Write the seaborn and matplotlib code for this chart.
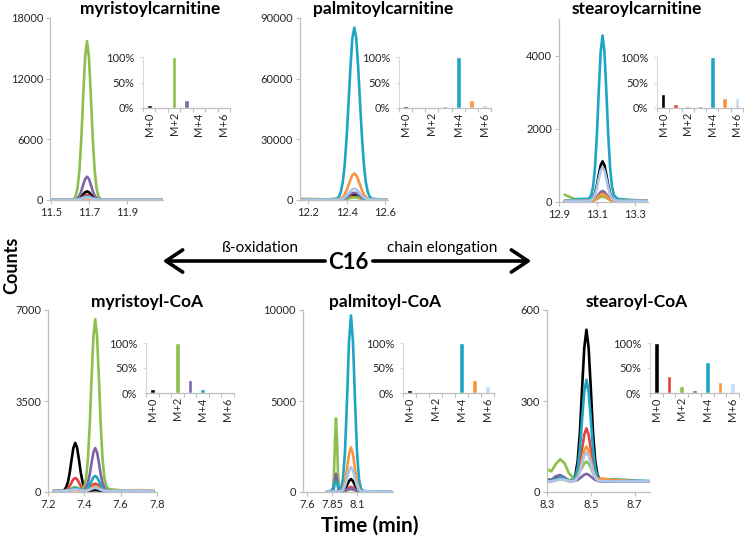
import matplotlib
matplotlib.use('Agg')
import matplotlib.pyplot as plt
from matplotlib.patches import FancyArrowPatch
import seaborn as sns
import pandas as pd

# isotopologues and their colours (M+0 ... M+6)
iso_labels = ['M+0', 'M+1', 'M+2', 'M+3', 'M+4', 'M+5', 'M+6']
iso_colors = ['#000000', '#e0443e', '#8cbf4c', '#8064a8', '#1ca6c4', '#f7963f', '#a9c6ec']
bar_colors = ['#000000', '#e0443e', '#8cbf4c', '#8064a8', '#1ca6c4', '#f7963f', '#c4dcf3']

# ---- myristoylcarnitine ----
myrcar_t = [11.50, 11.60, 11.62, 11.63, 11.64, 11.65, 11.66, 11.67, 11.68, 11.69,
            11.70, 11.71, 11.72, 11.73, 11.74, 11.75, 11.76, 11.80, 12.09]
myrcar_y = [
    [0, 0, 5, 20, 65, 162, 332, 561, 765, 850, 765, 561, 332, 162, 65, 20, 5, 0, 0],
    [0, 0, 3, 12, 38, 95, 195, 330, 450, 500, 450, 330, 195, 95, 38, 12, 3, 0, 0],
    [0, 0, 94, 377, 1193, 2983, 6123, 10362, 14130, 15700, 14130, 10362, 6123, 2983, 1193, 377, 94, 0, 0],
    [0, 0, 14, 55, 175, 437, 897, 1518, 2070, 2300, 2070, 1518, 897, 437, 175, 55, 14, 0, 0],
    [40, 40, 42, 47, 63, 97, 157, 238, 310, 340, 310, 238, 157, 97, 63, 47, 42, 40, 40],
    [20, 20, 21, 24, 31, 48, 79, 119, 155, 170, 155, 119, 79, 48, 31, 24, 21, 20, 20],
    [20, 20, 22, 26, 39, 67, 118, 185, 245, 270, 245, 185, 118, 67, 39, 26, 22, 20, 20],
]
myrcar_bars = [0.05, 0.02, 1.00, 0.15, 0.01, 0.01, 0.01]

# ---- palmitoylcarnitine ----
palcar_t = [12.16, 12.30, 12.35, 12.36, 12.37, 12.38, 12.39, 12.40, 12.41, 12.42, 12.43, 12.44,
            12.45, 12.46, 12.47, 12.48, 12.49, 12.50, 12.51, 12.52, 12.53, 12.58, 12.61]
palcar_y = [
    [100, 100, 115, 143, 210, 350, 600, 1000, 1500, 2025, 2450, 2600, 2450, 2025, 1500, 1000, 600, 350, 210, 143, 115, 100, 100],
    [50, 50, 59, 76, 116, 200, 350, 590, 890, 1205, 1460, 1550, 1460, 1205, 890, 590, 350, 200, 116, 76, 59, 50, 50],
    [600, 300, 306, 317, 344, 400, 500, 660, 860, 1070, 1240, 1300, 1240, 1070, 860, 660, 500, 400, 344, 317, 306, 300, 300],
    [50, 50, 71, 110, 204, 400, 750, 1310, 2010, 2745, 3340, 3550, 3340, 2745, 2010, 1310, 750, 400, 204, 110, 71, 50, 50],
    [200, 200, 710, 1645, 3940, 8700, 17200, 30800, 47800, 65650, 80100, 85200, 80100, 65650, 47800, 30800, 17200, 8700, 3940, 1645, 710, 200, 200],
    [100, 100, 178, 321, 672, 1400, 2700, 4780, 7380, 10110, 12320, 13100, 12320, 10110, 7380, 4780, 2700, 1400, 672, 321, 178, 100, 100],
    [100, 100, 133, 194, 342, 650, 1200, 2080, 3180, 4335, 5270, 5600, 5270, 4335, 3180, 2080, 1200, 650, 342, 194, 133, 100, 100],
]
palcar_bars = [0.03, 0.01, 0.01, 0.03, 1.00, 0.15, 0.06]

# ---- stearoylcarnitine ----
stecar_t = [12.93, 13.00, 13.05, 13.06, 13.07, 13.08, 13.09, 13.10, 13.11, 13.12,
            13.13, 13.14, 13.15, 13.16, 13.17, 13.18, 13.19, 13.21, 13.27, 13.37]
stecar_y = [
    [30, 30, 31, 36, 56, 112, 235, 451, 743, 1002, 1110, 1002, 743, 451, 235, 112, 56, 31, 30, 30],
    [20, 20, 20, 21, 26, 38, 66, 114, 178, 236, 260, 236, 178, 114, 66, 38, 26, 20, 20, 20],
    [200, 40, 30, 31, 33, 39, 53, 77, 109, 138, 150, 138, 109, 77, 53, 39, 33, 30, 30, 30],
    [30, 30, 30, 32, 36, 51, 81, 135, 208, 273, 300, 273, 208, 135, 81, 51, 36, 30, 30, 30],
    [30, 80, 84, 107, 187, 420, 930, 1823, 3030, 4103, 4550, 4103, 3030, 1823, 930, 420, 187, 84, 60, 30],
    [30, 30, 30, 31, 35, 44, 66, 104, 155, 201, 220, 201, 155, 104, 66, 44, 35, 30, 30, 30],
    [30, 30, 31, 36, 52, 100, 205, 389, 637, 858, 950, 858, 637, 389, 205, 100, 52, 31, 30, 30],
]
stecar_bars = [0.27, 0.07, 0.04, 0.04, 1.00, 0.20, 0.20]

# ---- myristoyl-CoA ----
myrcoa_t = [7.23, 7.26, 7.28, 7.29, 7.30, 7.31, 7.32, 7.33, 7.34, 7.35, 7.36, 7.37, 7.38, 7.39, 7.40, 7.41,
            7.42, 7.43, 7.44, 7.45, 7.46, 7.47, 7.48, 7.49, 7.50, 7.51, 7.52, 7.53, 7.55, 7.60, 7.70, 7.78]
myrcoa_y = [
    [40, 40, 51, 84, 181, 392, 762, 1261, 1705, 1890, 1705, 1261, 762, 392, 182, 87,
     57, 52, 60, 67, 70, 67, 60, 52, 46, 42, 41, 40, 40, 40, 40, 40],
    [40, 40, 43, 52, 78, 135, 235, 370, 490, 540, 490, 370, 235, 137, 85, 73,
     96, 149, 225, 292, 320, 292, 225, 149, 93, 61, 47, 42, 40, 40, 40, 40],
    [40, 40, 41, 44, 51, 69, 99, 139, 175, 190, 175, 139, 105, 108, 210, 545,
     1295, 2614, 4396, 5980, 6640, 5980, 4396, 2614, 1294, 560, 240, 130, 100, 70, 50, 40],
    [40, 40, 40, 42, 46, 55, 71, 93, 112, 120, 112, 93, 73, 65, 86, 167,
     354, 684, 1129, 1525, 1690, 1525, 1129, 684, 354, 165, 80, 50, 40, 40, 40, 40],
    [40, 40, 41, 42, 48, 59, 79, 106, 130, 140, 130, 106, 80, 63, 62, 86,
     151, 266, 423, 562, 620, 562, 423, 266, 150, 84, 54, 43, 40, 40, 40, 40],
    [40, 40, 40, 41, 42, 46, 52, 60, 67, 70, 67, 60, 52, 47, 46, 54,
     74, 110, 159, 202, 220, 202, 159, 110, 74, 54, 44, 41, 45, 60, 70, 60],
    [40, 40, 40, 41, 45, 51, 63, 80, 94, 100, 94, 80, 63, 52, 47, 50,
     63, 87, 119, 148, 160, 148, 119, 87, 63, 49, 43, 41, 45, 50, 50, 50],
]
myrcoa_bars = [0.09, 0.03, 1.00, 0.27, 0.08, 0.01, 0.00]

# ---- palmitoyl-CoA ----
palcoa_t = [7.80, 7.84, 7.86, 7.87, 7.88, 7.89, 7.90, 7.91, 7.92, 7.94, 7.96, 7.98,
            8.00, 8.02, 8.04, 8.06, 8.08, 8.10, 8.12, 8.14, 8.17, 8.25, 8.46]
palcoa_y = [
    [0, 0, 10, 20, 30, 40, 30, 20, 10, 15, 55, 165, 370, 600, 710, 600, 370, 165, 55, 15, 5, 0, 0],
    [0, 0, 5, 10, 20, 25, 20, 10, 5, 5, 20, 65, 145, 240, 280, 240, 145, 65, 20, 5, 0, 0, 0],
    [0, 20, 160, 1010, 2840, 4050, 2840, 1010, 200, 80, 70, 80, 100, 120, 130, 120, 100, 70, 40, 20, 10, 0, 0],
    [0, 10, 40, 250, 700, 1000, 700, 250, 60, 30, 40, 70, 110, 170, 200, 170, 110, 50, 20, 5, 0, 0, 0],
    [30, 60, 200, 380, 520, 550, 520, 380, 220, 170, 710, 2230, 5040, 8250, 9700, 8250, 5040, 2230, 710, 165, 50, 30, 30],
    [0, 0, 0, 0, 0, 0, 0, 5, 10, 40, 180, 560, 1270, 2080, 2450, 2080, 1270, 560, 180, 40, 10, 0, 0],
    [20, 20, 20, 25, 30, 30, 30, 30, 30, 45, 120, 330, 720, 1170, 1370, 1170, 720, 330, 120, 50, 35, 30, 30],
]
palcoa_bars = [0.06, 0.01, 0.01, 0.03, 1.00, 0.27, 0.14]

# ---- stearoyl-CoA ----
stecoa_t = [8.30, 8.32, 8.34, 8.36, 8.38, 8.40, 8.42, 8.43, 8.44, 8.45, 8.46, 8.47,
            8.48, 8.49, 8.50, 8.51, 8.52, 8.53, 8.54, 8.56, 8.60, 8.70, 8.77]
stecoa_y = [
    [40, 40, 45, 50, 45, 38, 41, 57, 103, 195, 340, 475, 535, 475, 340, 195, 103, 57, 41, 37, 36, 35, 35],
    [35, 36, 40, 45, 42, 36, 37, 43, 59, 91, 142, 189, 210, 189, 142, 91, 59, 43, 37, 36, 35, 35, 35],
    [75, 68, 92, 108, 95, 62, 46, 50, 58, 68, 80, 94, 100, 94, 80, 62, 47, 40, 37, 36, 35, 35, 35],
    [35, 40, 52, 56, 48, 38, 36, 38, 40, 45, 51, 57, 60, 57, 51, 45, 40, 37, 35, 35, 35, 35, 35],
    [35, 38, 42, 48, 44, 38, 39, 50, 80, 142, 239, 330, 370, 330, 239, 142, 80, 50, 40, 40, 42, 38, 36],
    [35, 35, 38, 42, 40, 36, 36, 40, 51, 72, 105, 136, 150, 136, 105, 72, 52, 45, 44, 44, 40, 36, 35],
    [35, 35, 38, 42, 40, 36, 36, 39, 48, 65, 93, 119, 130, 119, 93, 65, 48, 39, 36, 36, 35, 35, 35],
]
stecoa_bars = [1.00, 0.35, 0.15, 0.06, 0.63, 0.23, 0.20]

titles = ['myristoylcarnitine', 'palmitoylcarnitine', 'stearoylcarnitine',
          'myristoyl-CoA', 'palmitoyl-CoA', 'stearoyl-CoA']
times = [myrcar_t, palcar_t, stecar_t, myrcoa_t, palcoa_t, stecoa_t]
traces = [myrcar_y, palcar_y, stecar_y, myrcoa_y, palcoa_y, stecoa_y]
bars = [myrcar_bars, palcar_bars, stecar_bars, myrcoa_bars, palcoa_bars, stecoa_bars]
x_ticks = [[11.5, 11.7, 11.9], [12.2, 12.4, 12.6], [12.9, 13.1, 13.3],
           [7.2, 7.4, 7.6, 7.8], [7.6, 7.85, 8.1], [8.3, 8.5, 8.7]]
x_ticklabels = [['11.5', '11.7', '11.9'], ['12.2', '12.4', '12.6'], ['12.9', '13.1', '13.3'],
                ['7.2', '7.4', '7.6', '7.8'], ['7.6', '7.85', '8.1'], ['8.3', '8.5', '8.7']]
y_ticks = [[0, 6000, 12000, 18000], [0, 30000, 60000, 90000], [0, 2000, 4000],
           [0, 3500, 7000], [0, 5000, 10000], [0, 300, 600]]

# ---- layout (pixels in a 745 x 544 figure) ----
W, H = 745, 544
x_lims = [(11.495, 12.09), (12.158, 12.615), (12.9, 13.37), (7.2, 7.8), (7.56, 8.46), (8.3, 8.77)]
y_lims = [(0, 18000), (0, 90000), (0, 5000), (0, 7000), (0, 10000), (0, 600)]
main_boxes = [(50, 18, 163, 200), (300, 18, 388, 200), (559, 19, 648, 202),
              (48, 310, 157, 492), (303, 310, 393, 492), (547, 310, 650, 492)]
inset_boxes = [(143, 57, 230, 108), (399, 57, 491, 108), (657, 57, 743, 108),
               (146, 343, 234, 393), (403, 343, 494, 393), (650, 343, 739, 393)]
title_pos = [(150, 9), (383, 9), (637, 9), (147, 302), (385, 302), (637, 302)]

sns.set_theme(style='white')
plt.rcParams['font.family'] = ['Lato', 'DejaVu Sans']
plt.rcParams['text.color'] = '#000000'

grey = '#bfbfbf'
fig = plt.figure(figsize=(W / 100, H / 100), dpi=100)


def px_axes(box):
    left, top, right, bottom = box
    return fig.add_axes([left / W, 1 - bottom / H, (right - left) / W, (bottom - top) / H])


for i in range(6):
    # chromatogram
    ax = px_axes(main_boxes[i])
    rows = []
    for lab, ys in zip(iso_labels, traces[i]):
        for t, y in zip(times[i], ys):
            rows.append({'t': t, 'counts': y, 'iso': lab})
    df = pd.DataFrame(rows)
    sns.lineplot(data=df, x='t', y='counts', hue='iso', hue_order=iso_labels,
                 palette=iso_colors, linewidth=1.9, estimator=None, sort=False,
                 legend=False, ax=ax)
    ax.set_xlim(*x_lims[i])
    ax.set_ylim(*y_lims[i])
    ax.set_xticks(x_ticks[i])
    ax.set_xticklabels(x_ticklabels[i])
    ax.set_yticks(y_ticks[i])
    ax.set_xlabel('')
    ax.set_ylabel('')
    ax.set_facecolor('none')
    for side in ['top', 'right']:
        ax.spines[side].set_visible(False)
    for side in ['left', 'bottom']:
        ax.spines[side].set_color(grey)
        ax.spines[side].set_linewidth(0.9)
    ax.tick_params(axis='both', length=3, width=0.8, color=grey, labelsize=8,
                   labelcolor='#262626', pad=2, left=True, bottom=True, direction='out')

    fig.text(title_pos[i][0] / W, 1 - title_pos[i][1] / H, titles[i],
             ha='center', va='center', fontsize=12.5, fontweight='bold')

    # isotopologue distribution inset
    bx = px_axes(inset_boxes[i])
    bdf = pd.DataFrame({'iso': iso_labels, 'frac': bars[i]})
    sns.barplot(data=bdf, x='iso', y='frac', hue='iso', palette=bar_colors,
                saturation=1, legend=False, width=0.38, ax=bx)
    bx.set_facecolor('none')
    bx.set_xlim(-0.5, 6.5)
    bx.set_ylim(0, 1)
    bx.set_yticks([0, 0.5, 1.0])
    bx.set_yticklabels(['0%', '50%', '100%'])
    bx.set_xticks([0, 2, 4, 6])
    bx.set_xticklabels(['M+0', 'M+2', 'M+4', 'M+6'], rotation=90)
    bx.set_xticks([k - 0.5 for k in range(8)], minor=True)
    bx.set_xlabel('')
    bx.set_ylabel('')
    for side in ['top', 'right']:
        bx.spines[side].set_visible(False)
    bx.spines['left'].set_color('#d9d9d9')
    bx.spines['left'].set_linewidth(0.8)
    bx.spines['bottom'].set_color(grey)
    bx.spines['bottom'].set_linewidth(0.9)
    bx.tick_params(axis='x', which='major', length=0, labelsize=8, labelcolor='#262626', pad=3)
    bx.tick_params(axis='x', which='minor', length=3, width=0.8, color=grey, bottom=True)
    bx.tick_params(axis='y', length=2.5, width=0.8, color='#d9d9d9', left=True,
                   labelsize=8, labelcolor='#262626', pad=4)

# shared axis labels
fig.text(12 / W, 1 - 265 / H, 'Counts', rotation=90, ha='center', va='center',
         fontsize=13, fontweight='bold')
fig.text(370 / W, 1 - 526 / H, 'Time (min)', ha='center', va='center',
         fontsize=15, fontweight='bold')

# C16 in the middle, arrows to both sides
fig.text(348 / W, 1 - 262 / H, 'C16', ha='center', va='center', fontsize=16, fontweight='bold')
fig.text(260 / W, 1 - 248 / H, 'ß-oxidation', ha='center', va='center', fontsize=11)
fig.text(442 / W, 1 - 248 / H, 'chain elongation', ha='center', va='center', fontsize=11)
for x0, x1 in [(328, 160), (370, 534)]:
    arr = FancyArrowPatch((x0 / W, 1 - 261 / H), (x1 / W, 1 - 261 / H),
                          transform=fig.transFigure,
                          arrowstyle='->,head_length=0.6,head_width=0.4',
                          mutation_scale=20, lw=2.6, color='black')
    fig.add_artist(arr)

fig.savefig('out.png', dpi=100)
